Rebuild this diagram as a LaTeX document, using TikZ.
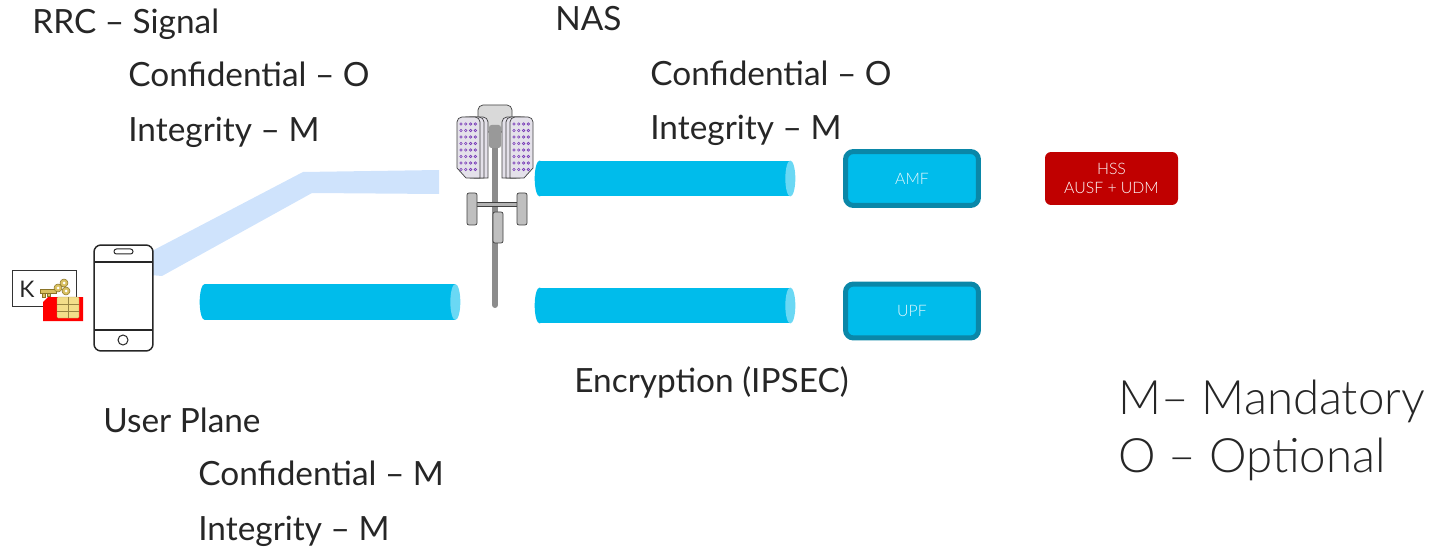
\documentclass[tikz,border=0pt]{standalone}
\usepackage{fontspec}
\setmainfont{Lato}
\newfontfamily\thinfont{Lato Light}

\definecolor{tubecyan}{HTML}{00BCEB}
\definecolor{tubeend}{HTML}{6AD8F4}
\definecolor{rrcblue}{HTML}{CFE3FC}
\definecolor{nfborder}{HTML}{0A87A8}
\definecolor{hssred}{HTML}{C00000}
\definecolor{simred}{HTML}{FF0000}
\definecolor{chipgold}{HTML}{F3DE8A}
\definecolor{keygold}{HTML}{D9C060}
\definecolor{keydark}{HTML}{8A7428}
\definecolor{dotpurple}{HTML}{7A3DB8}
\definecolor{panelgray}{HTML}{E4E1EA}
\definecolor{txt}{HTML}{262626}

\begin{document}
\begin{tikzpicture}[x=0.02cm, y=-0.02cm]
\tikzstyle{txtline}=[anchor=base west, inner sep=0pt, text=txt, font=\fontsize{19}{22}\selectfont]
\tikzstyle{legendtext}=[anchor=base west, inner sep=0pt, text=txt, font=\thinfont\fontsize{27}{32}\selectfont]
\tikzstyle{tube}=[rectangle, fill=tubecyan, minimum width=5cm, minimum height=0.72cm, inner sep=0pt]
\tikzstyle{tubecap}=[x radius=0.1cm, y radius=0.36cm]
\tikzstyle{nf}=[rectangle, rounded corners=0.16cm, draw=nfborder, line width=0.1cm, fill=tubecyan, minimum width=2.66cm, minimum height=1.08cm, text=white!90!tubecyan, font=\thinfont\fontsize{9}{11}\selectfont]
\tikzstyle{hss}=[rectangle, rounded corners=0.12cm, fill=hssred, minimum width=2.66cm, minimum height=1.06cm, align=center, text=white, font=\thinfont\fontsize{9}{11}\selectfont]
\tikzstyle{tower}=[draw=black!75, line width=0.4pt]

\useasboundingbox (0,0) rectangle (1430,547);

% radio link from the handset up to the antenna
\fill[rrcblue] (150,252) -- (303,172) -- (439,170) -- (439,194) -- (312,193) -- (162,276) -- (150,275) -- cycle;

% handset
\node[draw=black!85, line width=0.03cm, rounded corners=0.14cm, fill=white, minimum width=1.18cm, minimum height=2.12cm, inner sep=0pt] (phone) at (123.5,298) {};
\draw[black!85, line width=0.025cm] (94,262) -- (153,262) (94,330) -- (153,330);
\draw[black!85, line width=0.02cm, rounded corners=0.05cm] (114,249) rectangle (133,254);
\draw[black!85, line width=0.02cm] (123,340) circle [radius=0.1cm];

% key store and SIM
\node[draw=black!80, line width=0.02cm, fill=white, minimum width=1.3cm, minimum height=0.74cm, inner sep=0pt] (kbox) at (44.5,288.5) {};
\node[text=txt, font=\fontsize{13}{15}\selectfont, inner sep=0pt] (kname) at (27,289) {K};
\fill[simred] (43,302) -- (48,297) -- (83,297) -- (83,321) -- (43,321) -- cycle;
\filldraw[fill=chipgold, draw=keygold!80!black, line width=0.2pt, rounded corners=0.02cm] (57,297) rectangle (79,318);
\draw[keygold!70!black, line width=0.3pt] (57,304) -- (79,304) (57,311) -- (79,311) (68,297) -- (68,318);
\filldraw[fill=keygold, draw=keydark, line width=0.3pt] (40,289) rectangle (56,293);
\filldraw[fill=keygold, draw=keydark, line width=0.3pt] (42,293) rectangle (45,297) (47,293) rectangle (50,296);
\foreach \kx/\ky in {58/288, 64/283, 66/291}
  \filldraw[fill=keygold, draw=keydark, line width=0.3pt] (\kx,\ky) circle [radius=0.08cm];
\foreach \kx/\ky in {58/288, 64/283, 66/291}
  \fill[white] (\kx,\ky) circle [radius=0.03cm];

% antenna mast
\draw[line width=0.12cm, black!45, line cap=round] (495,140) -- (495,305);
\filldraw[tower, fill=black!15, rounded corners=0.1cm] (478,105) rectangle (512,132);
\fill[black!40, rounded corners=0.05cm] (489,125) rectangle (501,148);
\filldraw[tower, fill=black!30, line width=0.2pt] (472,202) rectangle (522,206);
\filldraw[tower, fill=black!25, rounded corners=0.04cm] (467,193) rectangle (477,225);
\filldraw[tower, fill=black!25, rounded corners=0.04cm] (517,193) rectangle (527,225);
\filldraw[tower, fill=black!25, rounded corners=0.04cm] (493,212) rectangle (503,243);
\foreach \dx in {8,4,0}
  \filldraw[tower, fill=panelgray] (457+\dx,168) [rounded corners=0.1cm] -- (457+\dx,117) -- (480+\dx,117) [sharp corners] -- (480+\dx,178) -- (466+\dx,178) -- cycle;
\foreach \dx in {-8,-4,0}
  \filldraw[tower, fill=panelgray] (533+\dx,168) [rounded corners=0.1cm] -- (533+\dx,117) -- (510+\dx,117) [sharp corners] -- (510+\dx,178) -- (524+\dx,178) -- cycle;
\foreach \i in {0,...,3}
  \foreach \j in {0,...,7} {
    \draw[dotpurple, line width=0.35pt] (461+4.8*\i,124+6.5*\j) circle [radius=0.025cm];
    \draw[dotpurple, line width=0.35pt] (514+4.8*\i,124+6.5*\j) circle [radius=0.025cm];
  }

% tunnels
\node[tube] (uptube) at (330,302) {};
\node[tube] (nastube) at (665,178.5) {};
\node[tube] (ipsectube) at (665,305.5) {};
\foreach \t in {uptube, nastube, ipsectube} {
  \fill[tubecyan] (\t.west) ellipse [tubecap];
  \fill[tubeend] (\t.east) ellipse [tubecap];
}

% core functions
\node[nf] (amf) at (912,178.5) {AMF};
\node[nf] (upf) at (912,311) {UPF};
\node[hss] (hss) at (1111.5,178.5) {HSS\\AUSF + UDM};

% texts
\node[txtline] (rrc) at (32,34) {RRC – Signal};
\node[txtline] (rrcconf) at (128,87) {Confidential – O};
\node[txtline] (rrcint) at (128,142) {Integrity – M};
\node[txtline] (nas) at (555,31) {NAS};
\node[txtline] (nasconf) at (650,86) {Confidential – O};
\node[txtline] (nasint) at (650,140) {Integrity – M};
\node[txtline] (ipsec) at (574,392) {Encryption (IPSEC)};
\node[txtline] (up) at (103,432) {User Plane};
\node[txtline] (upconf) at (198,485) {Confidential – M};
\node[txtline] (upint) at (198,540) {Integrity – M};
\node[legendtext] (mand) at (1118,414) {M– Mandatory};
\node[legendtext] (opt) at (1118,472) {O – Optional};
\end{tikzpicture}
\end{document}
